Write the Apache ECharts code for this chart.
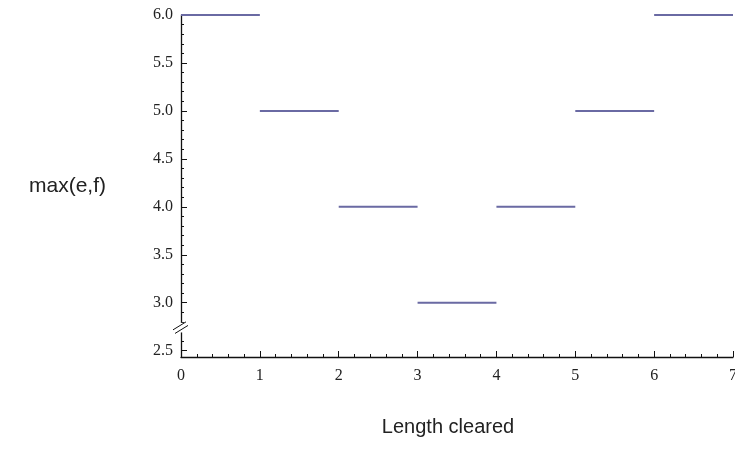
<!DOCTYPE html>
<html>
<head>
<meta charset="utf-8">
<script src="https://cdn.jsdelivr.net/npm/echarts@6/dist/echarts.min.js"></script>
<style>
  html, body { margin: 0; padding: 0; background: #fff; }
  #chart { width: 735px; height: 452px; }
</style>
</head>
<body>
<div id="chart"></div>
<script>
// step segments: each one starts at segStart and is 1 wide
var segStart = [0, 1, 2, 3, 4, 5, 6];
var segLevel = [6, 5, 4, 3, 4, 5, 6];
var yMajor = [2.5, 3.0, 3.5, 4.0, 4.5, 5.0, 5.5, 6.0];
var yMinor = [2.6, 2.7, 2.8, 2.9, 3.1, 3.2, 3.3, 3.4, 3.6, 3.7, 3.8, 3.9,
              4.1, 4.2, 4.3, 4.4, 4.6, 4.7, 4.8, 4.9, 5.1, 5.2, 5.3, 5.4,
              5.6, 5.7, 5.8, 5.9];

var myChart = echarts.init(document.getElementById('chart'));

var lineData = [];
for (var i = 0; i < segStart.length; i++) {
  lineData.push([segStart[i], segLevel[i]]);
  lineData.push([segStart[i] + 1, segLevel[i]]);
  lineData.push('-'); // break between steps
}

var serif = '"Liberation Serif", "DejaVu Serif", serif';
var sans = '"Liberation Sans", Arial, sans-serif';

var option = {
  animation: false,
  grid: { left: 181, right: 2, top: 15, bottom: 95, outerBoundsMode: 'none' },
  xAxis: {
    type: 'value',
    min: 0, max: 7, interval: 1,
    name: 'Length cleared',
    nameLocation: 'middle',
    nameGap: 60,
    nameTextStyle: { fontFamily: sans, fontSize: 20, color: '#222', padding: [0, 18, 0, 0] },
    axisLine: { show: true, onZero: false, lineStyle: { color: '#111', width: 1.3 } },
    axisTick: { show: true, inside: true, length: 6, lineStyle: { color: '#111' } },
    minorTick: { show: true, splitNumber: 5, length: 3, lineStyle: { color: '#111' } },
    axisLabel: { margin: 11, fontFamily: serif, fontSize: 16, color: '#222' },
    splitLine: { show: false }
  },
  yAxis: [{
    type: 'value',
    min: 2.434, max: 6,
    name: 'max(e,f)',
    nameLocation: 'middle',
    nameRotate: 0,
    nameGap: 75,
    nameTextStyle: { fontFamily: sans, fontSize: 21, color: '#222', align: 'right', padding: [0, 0, 8, 0] },
    axisLine: { show: true, lineStyle: { color: '#111', width: 1.3 } },
    axisTick: { show: true, inside: true, length: 6, customValues: yMajor, lineStyle: { color: '#111' } },
    axisLabel: {
      customValues: yMajor, margin: 8, fontFamily: serif, fontSize: 16, color: '#222',
      formatter: function (v) { return v.toFixed(1); }
    },
    splitLine: { show: false }
  }, {
    type: 'value',
    position: 'left',
    min: 2.434, max: 6,
    axisLine: { show: false },
    axisTick: { show: true, inside: true, length: 3, customValues: yMinor, lineStyle: { color: '#111' } },
    axisLabel: { show: false },
    splitLine: { show: false }
  }],
  series: [{
    type: 'line',
    data: lineData,
    showSymbol: false,
    connectNulls: false,
    lineStyle: { color: '#6a6aa3', width: 2 },
    itemStyle: { color: '#6a6aa3' }
  }]
};
myChart.setOption(option);

// axis break mark on the y axis, between 2.7 and 2.8
function drawBreak() {
  var top = myChart.convertToPixel({ yAxisIndex: 0 }, 2.79);
  var bot = myChart.convertToPixel({ yAxisIndex: 0 }, 2.69);
  var ax = myChart.convertToPixel({ xAxisIndex: 0 }, 0);
  myChart.setOption({
    graphic: [
      { type: 'rect', shape: { x: ax - 3, y: top, width: 6, height: bot - top }, style: { fill: '#fff' }, z: 100 },
      { type: 'line', shape: { x1: ax - 8, y1: top + 7, x2: ax + 5, y2: top - 1 }, style: { stroke: '#111', lineWidth: 1 }, z: 101 },
      { type: 'line', shape: { x1: ax - 6, y1: bot + 1, x2: ax + 7, y2: bot - 7 }, style: { stroke: '#111', lineWidth: 1 }, z: 101 }
    ]
  });
}
drawBreak();

window.addEventListener('resize', function () {
  myChart.resize();
  drawBreak();
});
</script>
</body>
</html>
